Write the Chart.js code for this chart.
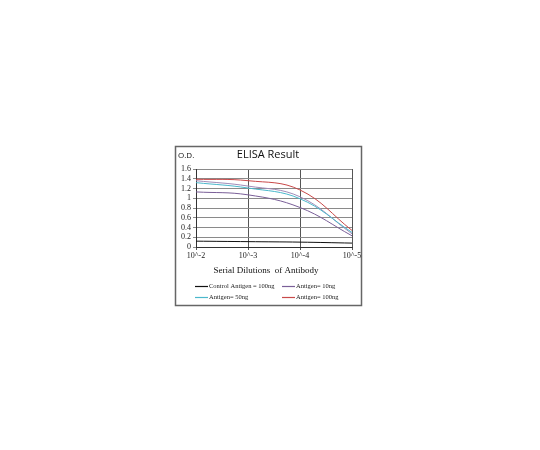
<!DOCTYPE html>
<html>
<head>
<meta charset="utf-8">
<script src="https://cdn.jsdelivr.net/npm/chart.js@4"></script>
<style>
html,body{margin:0;padding:0;background:#fff;}
#wrap{width:540px;height:450px;position:relative;}
</style>
</head>
<body>
<div id="wrap"><canvas id="c" width="540" height="450"></canvas></div>
<script>
// ---- data ----
const dilutions = ['10^-2', '10^-3', '10^-4', '10^-5'];
const control100 = [0.12, 0.11, 0.10, 0.08];
const antigen10 = [1.13, 1.07, 0.81, 0.23];
const antigen50 = [1.32, 1.21, 0.99, 0.30];
const extraLine = [1.36, 1.25, 1.03, 0.27];
const antigen100 = [1.39, 1.36, 1.17, 0.34];
const yTicks = [0, 0.2, 0.4, 0.6, 0.8, 1, 1.2, 1.4, 1.6];
const seriesLabels = ['Control Antigen = 100ng', 'Antigen= 10ng', 'Antigen= 50ng', 'Antigen= 100ng'];

function ds(label, data, color, legend) {
  return {label, data, borderColor: color, backgroundColor: color, borderWidth: 1,
    pointRadius: 0, tension: 0.4, fill: false, showInLegend: legend};
}

const extras = {
  id: 'extras',
  afterDraw(chart) {
    const ctx = chart.ctx;
    ctx.save();
    // outer frame
    ctx.strokeStyle = '#666';
    ctx.lineWidth = 1.5;
    ctx.strokeRect(175.5, 146.5, 186, 159);
    // title
    ctx.fillStyle = '#111';
    ctx.textAlign = 'center';
    ctx.textBaseline = 'middle';
    ctx.font = '11px "Open Sans", "Liberation Sans", Arial, sans-serif';
    ctx.fillText('ELISA Result', 268, 155);
    ctx.textAlign = 'left';
    ctx.font = '8px "Open Sans", "Liberation Sans", Arial, sans-serif';
    ctx.fillText('O.D.', 178, 155.5);
    // x title
    ctx.textAlign = 'center';
    ctx.font = '9px "Liberation Serif", "Times New Roman", serif';
    ctx.fillText('Serial Dilutions  of Antibody', 266, 271);
    // legend
    const items = chart.data.datasets.filter(d => d.showInLegend);
    const pos = [[195, 286], [282, 286], [195, 297], [282, 297]];
    ctx.font = '6.5px "Liberation Serif", "Times New Roman", serif';
    ctx.textAlign = 'left';
    items.forEach((d, i) => {
      const [x, y] = pos[i];
      ctx.strokeStyle = d.borderColor;
      ctx.lineWidth = 1.2;
      ctx.beginPath();
      ctx.moveTo(x, y + 0.5);
      ctx.lineTo(x + 13, y + 0.5);
      ctx.stroke();
      ctx.fillStyle = '#222';
      ctx.fillText(d.label, x + 14, y + 0.5);
    });
    ctx.restore();
  }
};

new Chart(document.getElementById('c'), {
  type: 'line',
  data: {
    labels: dilutions,
    datasets: [
      ds(seriesLabels[0], control100, '#111111', true),
      ds(seriesLabels[1], antigen10, '#7a5f98', true),
      ds(seriesLabels[2], antigen50, '#4bb8cc', true),
      ds('', extraLine, '#a08cb8', false),
      ds(seriesLabels[3], antigen100, '#c84a4a', true)
    ]
  },
  options: {
    responsive: false,
    animation: false,
    devicePixelRatio: 1,
    layout: {padding: {left: 176, right: 188, top: 169, bottom: 187}},
    plugins: {legend: {display: false}, title: {display: false}, tooltip: {enabled: false}},
    scales: {
      x: {
        type: 'category',
        offset: false,
        grid: {color: '#555', lineWidth: 1, drawTicks: true, tickLength: 3},
        border: {color: '#333', width: 1},
        ticks: {color: '#222', font: {family: '"Liberation Serif", serif', size: 8}, padding: 1, maxRotation: 0, autoSkip: false},
        afterFit(s) { s.height = 16; }
      },
      y: {
        min: 0, max: 1.6,
        afterBuildTicks(s) { s.ticks = yTicks.map(v => ({value: v})); },
        grid: {color: '#8a8a8a', lineWidth: 1, drawTicks: true, tickLength: 3},
        border: {color: '#333', width: 1},
        ticks: {color: '#222', font: {family: '"Liberation Serif", serif', size: 8}, padding: 2, autoSkip: false,
          callback: v => String(Math.round(v * 10) / 10)},
        afterFit(s) { s.width = 20; }
      }
    }
  },
  plugins: [extras]
});
</script>
</body>
</html>
